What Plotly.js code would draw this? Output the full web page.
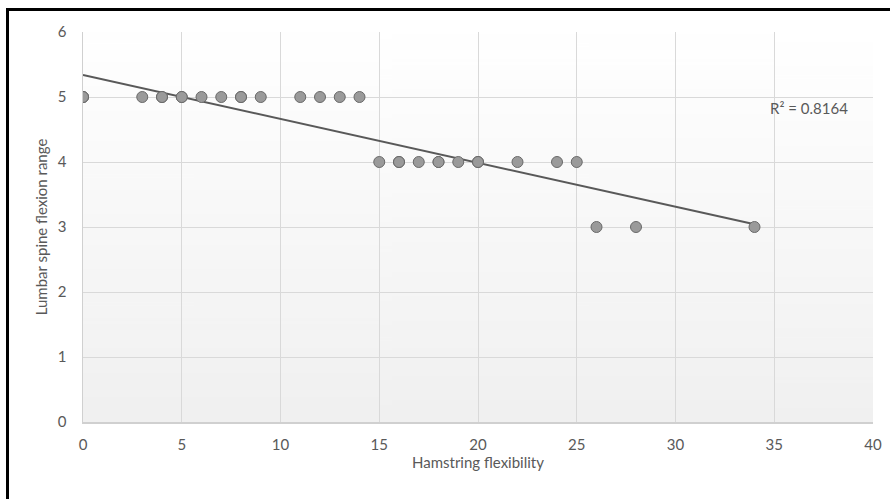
<!DOCTYPE html>
<html>
<head>
<meta charset="utf-8">
<script src="https://cdn.plot.ly/plotly-3.0.1.min.js"></script>
<style>
  html, body { margin: 0; padding: 0; background: #ffffff; overflow: hidden; }
  #chart { position: absolute; left: 0; top: 0; width: 890px; height: 499px; }
  #frame { position: absolute; left: 6px; top: 8px; width: 1000px; height: 1000px;
           border-left: 3px solid #000; border-top: 3px solid #000; pointer-events: none; }
</style>
</head>
<body>
<div id="chart"></div>
<div id="frame"></div>
<script>
// Hamstring flexibility (x) and lumbar spine flexion range (y); repeated pairs are overlapping subjects
var hamstring = [0, 0, 0, 3, 4, 4, 5, 5, 6, 7, 8, 8, 9, 11, 12, 13, 14,
                 15, 16, 16, 17, 18, 18, 19, 20, 20, 22, 24, 25,
                 26, 28, 34];
var lumbar    = [5, 5, 5, 5, 5, 5, 5, 5, 5, 5, 5, 5, 5, 5, 5, 5, 5,
                 4, 4, 4, 4, 4, 4, 4, 4, 4, 4, 4, 4,
                 3, 3, 3];
var xTicks = [0, 5, 10, 15, 20, 25, 30, 35, 40];
var yTicks = [0, 1, 2, 3, 4, 5, 6];
var r2Label = "R² = 0.8164";

// least-squares linear trendline from the data
var n = hamstring.length, sx = 0, sy = 0, sxx = 0, sxy = 0;
for (var i = 0; i < n; i++) {
  sx += hamstring[i]; sy += lumbar[i];
  sxx += hamstring[i] * hamstring[i]; sxy += hamstring[i] * lumbar[i];
}
var slope = (n * sxy - sx * sy) / (n * sxx - sx * sx);
var intercept = (sy - slope * sx) / n;
var xMin = Math.min.apply(null, hamstring), xMax = Math.max.apply(null, hamstring);
var trendX = [xMin, xMax];
var trendY = trendX.map(function (v) { return intercept + slope * v; });

// vertical gradient for the plot area
var cv = document.createElement('canvas');
cv.width = 4; cv.height = 256;
var ctx = cv.getContext('2d');
var g = ctx.createLinearGradient(0, 0, 0, 256);
g.addColorStop(0, '#ffffff');
g.addColorStop(1, '#f0f0f0');
ctx.fillStyle = g; ctx.fillRect(0, 0, 4, 256);
var bgUrl = cv.toDataURL('image/png');

var font = "Lato, 'Open Sans', 'DejaVu Sans', sans-serif";
var fs = 15;

var traces = [
  {
    x: trendX, y: trendY, type: 'scatter', mode: 'lines',
    line: { color: '#595959', width: 2 }, hoverinfo: 'skip'
  },
  {
    x: hamstring, y: lumbar, type: 'scatter', mode: 'markers',
    marker: { size: 11, color: '#9a9a9a', line: { color: '#6a6a6a', width: 1 } }
  }
];

var layout = {
  width: 890, height: 499,
  margin: { l: 83, r: 17, t: 32, b: 77 },
  paper_bgcolor: 'rgba(0,0,0,0)',
  plot_bgcolor: 'rgba(0,0,0,0)',
  showlegend: false,
  font: { family: font, size: fs, color: '#595959' },
  images: [{
    source: bgUrl, xref: 'paper', yref: 'paper', x: 0, y: 1,
    sizex: 1, sizey: 1, sizing: 'stretch', layer: 'below',
    xanchor: 'left', yanchor: 'top'
  }],
  xaxis: {
    range: [0, 40], tickvals: xTicks, ticktext: xTicks.map(String),
    showgrid: true, gridcolor: '#d9d9d9', gridwidth: 1,
    zeroline: false, showline: true, linecolor: '#d0d0d0', linewidth: 1.5,
    ticks: '', ticklabelstandoff: 8,
    tickfont: { family: font, size: fs, color: '#595959' },
    title: { text: 'Hamstring flexibility', standoff: 0,
             font: { family: font, size: fs, color: '#595959' } }
  },
  yaxis: {
    range: [0, 6], tickvals: yTicks, ticktext: yTicks.map(String),
    showgrid: true, gridcolor: '#d9d9d9', gridwidth: 1,
    zeroline: false, showline: true, linecolor: '#d0d0d0', linewidth: 1.5,
    ticks: '', ticklabelstandoff: 12,
    tickfont: { family: font, size: fs, color: '#595959' },
    title: { text: 'Lumbar spine flexion range', standoff: 6,
             font: { family: font, size: fs, color: '#595959' } }
  },
  annotations: [{
    x: 36.75, y: 4.83, xref: 'x', yref: 'y', text: r2Label, showarrow: false,
    font: { family: font, size: fs, color: '#595959' }
  }]
};

Plotly.newPlot('chart', traces, layout, { displayModeBar: false, staticPlot: true });
</script>
</body>
</html>
